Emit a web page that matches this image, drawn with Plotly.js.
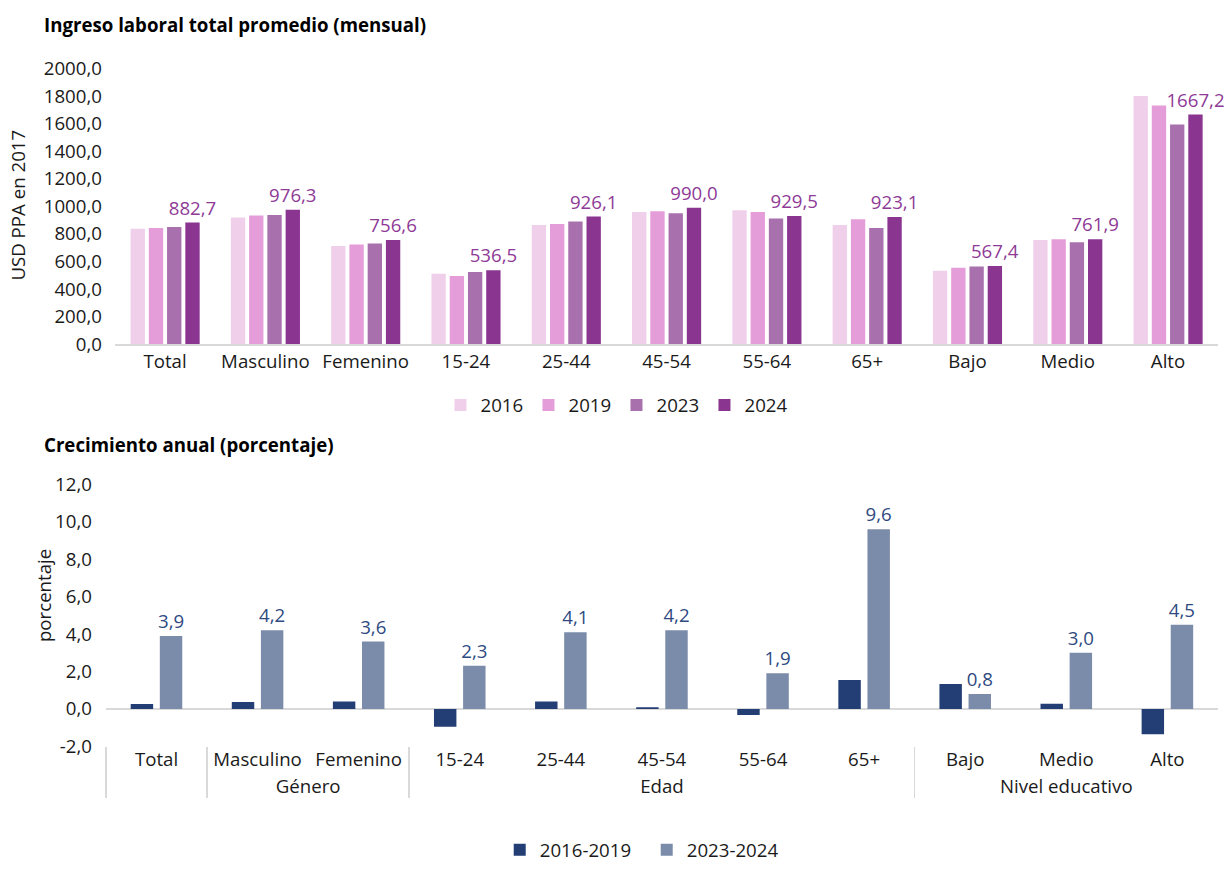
<!DOCTYPE html>
<html>
<head>
<meta charset="utf-8">
<script src="https://cdn.plot.ly/plotly-3.0.1.min.js"></script>
<style>
  html, body { margin: 0; padding: 0; background: #ffffff; }
  #chart { width: 1229px; height: 869px; }
</style>
</head>
<body>
<div id="chart"></div>
<script>
// Categories shared by both panels
const categories = ['Total', 'Masculino', 'Femenino', '15-24', '25-44', '45-54', '55-64', '65+', 'Bajo', 'Medio', 'Alto'];
const groups = [' ', 'Género', 'Género', 'Edad', 'Edad', 'Edad', 'Edad', 'Edad', 'Nivel educativo', 'Nivel educativo', 'Nivel educativo'];

// Average monthly labour income (USD PPA 2017)
const years = ['2016', '2019', '2023', '2024'];
const income2016 = [837, 920, 713, 510, 865, 959, 971, 865, 532, 756, 1802];
const income2019 = [843, 933, 723, 495, 872, 964, 959, 907, 554, 761, 1732];
const income2023 = [850, 937, 730, 524, 890, 950, 912, 842, 563, 740, 1595];
const income2024 = [882.7, 976.3, 756.6, 536.5, 926.1, 990.0, 929.5, 923.1, 567.4, 761.9, 1667.2];

// Annual growth (%)
const periods = ['2016-2019', '2023-2024'];
const growth1619 = [0.26, 0.37, 0.40, -0.95, 0.40, 0.09, -0.33, 1.54, 1.33, 0.28, -1.35];
const growth2324 = [3.9, 4.2, 3.6, 2.3, 4.1, 4.2, 1.9, 9.6, 0.8, 3.0, 4.5];

// Axis ticks
const incomeTicks = [0, 200, 400, 600, 800, 1000, 1200, 1400, 1600, 1800, 2000];
const growthTicks = [-2, 0, 2, 4, 6, 8, 10, 12];

const FONT = 'Open Sans, Noto Sans, sans-serif';
const FS = 18.67;
const fmt = v => v.toFixed(1).replace('.', ',');

const incomeColors = ['#F0CFEB', '#E59DD9', '#A871AE', '#8A3590'];
const incomeOffsets = [-0.344, -0.162, 0.020, 0.202];
const incomeSeries = [income2016, income2019, income2023, income2024];

const traces = [];
incomeSeries.forEach((vals, i) => {
  const t = {
    type: 'bar', x: categories, y: vals, name: years[i],
    xaxis: 'x', yaxis: 'y', legend: 'legend',
    width: 0.143, offset: incomeOffsets[i],
    marker: { color: incomeColors[i], line: { width: 0 } },
    hoverinfo: 'skip'
  };
  if (i === 3) {
    t.texttemplate = '%{y:.1f}';
    t.textposition = 'outside';
    t.textfont = { family: FONT, size: FS, color: '#8E3A96' };
    t.cliponaxis = false;
    t.constraintext = 'none';
  }
  traces.push(t);
});

const growthColors = ['#223E75', '#7B8BAA'];
const growthOffsets = [-0.255, 0.033];
[growth1619, growth2324].forEach((vals, i) => {
  const t = {
    type: 'bar', x: [groups, categories], y: vals, name: periods[i],
    xaxis: 'x2', yaxis: 'y2', legend: 'legend2',
    width: 0.222, offset: growthOffsets[i],
    marker: { color: growthColors[i], line: { width: 0 } },
    hoverinfo: 'skip'
  };
  if (i === 1) {
    t.texttemplate = '%{y:.1f}';
    t.textposition = 'outside';
    t.textfont = { family: FONT, size: FS, color: '#2E4A7F' };
    t.cliponaxis = false;
    t.constraintext = 'none';
  }
  traces.push(t);
});

const tickFont = { family: FONT, size: FS, color: '#1a1a1a' };

const layout = {
  width: 1229, height: 869,
  margin: { l: 0, r: 0, t: 0, b: 0 },
  paper_bgcolor: '#ffffff', plot_bgcolor: '#ffffff',
  separators: ',.',
  barmode: 'overlay',
  font: { family: FONT, size: FS, color: '#1a1a1a' },
  showlegend: true,
  xaxis: {
    domain: [0.0935, 0.9912], anchor: 'y', type: 'category',
    range: [-0.5, 10.5], showgrid: false, zeroline: false,
    showline: true, linecolor: '#D9D9D9', linewidth: 1.5,
    ticks: '', tickfont: tickFont, fixedrange: true
  },
  yaxis: {
    domain: [0.5995, 0.9200], anchor: 'x',
    range: [0, 2000], tickvals: incomeTicks, ticktext: incomeTicks.map(fmt),
    showgrid: false, zeroline: false, showline: false, ticks: '',
    ticklabelstandoff: 12, tickfont: tickFont, fixedrange: true
  },
  xaxis2: {
    domain: [0.0862, 0.9910], anchor: 'y2', type: 'multicategory',
    range: [-0.5, 10.5], showgrid: false, zeroline: false, showline: false,
    ticks: 'outside', ticklen: 5, tickcolor: 'rgba(0,0,0,0)',
    showdividers: true, dividercolor: '#D9D9D9', dividerwidth: 1.5,
    tickfont: tickFont, fixedrange: true
  },
  yaxis2: {
    domain: [0.1312, 0.4361], anchor: 'x2',
    range: [-2, 12], tickvals: growthTicks, ticktext: growthTicks.map(fmt),
    showgrid: false, zeroline: true, zerolinecolor: '#D9D9D9', zerolinewidth: 1.5,
    showline: false, ticks: '',
    ticklabelstandoff: 13, tickfont: tickFont, fixedrange: true
  },
  legend: {
    orientation: 'h', x: 0.3584, y: 0.528, xanchor: 'left', yanchor: 'middle',
    font: tickFont,
    entrywidth: 43, entrywidthmode: 'pixels', bgcolor: 'rgba(0,0,0,0)'
  },
  legend2: {
    orientation: 'h', x: 0.4066, y: 0.010, xanchor: 'left', yanchor: 'middle',
    font: tickFont,
    entrywidth: 102, entrywidthmode: 'pixels', bgcolor: 'rgba(0,0,0,0)'
  },
  annotations: [
    { text: '<b>Ingreso laboral total promedio (mensual)</b>', xref: 'paper', yref: 'paper',
      x: 42 / 1229, y: 1 - 25 / 869, xanchor: 'left', yanchor: 'middle', showarrow: false,
      font: { family: FONT, size: FS, color: '#000000' } },
    { text: '<b>Crecimiento anual (porcentaje)</b>', xref: 'paper', yref: 'paper',
      x: 42 / 1229, y: 1 - 450 / 869, xanchor: 'left', yanchor: 'middle', showarrow: false,
      font: { family: FONT, size: FS, color: '#000000' } },
    { text: 'USD PPA en 2017', xref: 'paper', yref: 'paper', textangle: -90,
      x: 18 / 1229, y: 1 - 208 / 869, xanchor: 'center', yanchor: 'middle', showarrow: false,
      font: tickFont },
    { text: 'porcentaje', xref: 'paper', yref: 'paper', textangle: -90,
      x: 43 / 1229, y: 1 - 603 / 869, xanchor: 'center', yanchor: 'middle', showarrow: false,
      font: tickFont }
  ]
};

Plotly.newPlot('chart', traces, layout, { staticPlot: true, displayModeBar: false });
</script>
</body>
</html>
